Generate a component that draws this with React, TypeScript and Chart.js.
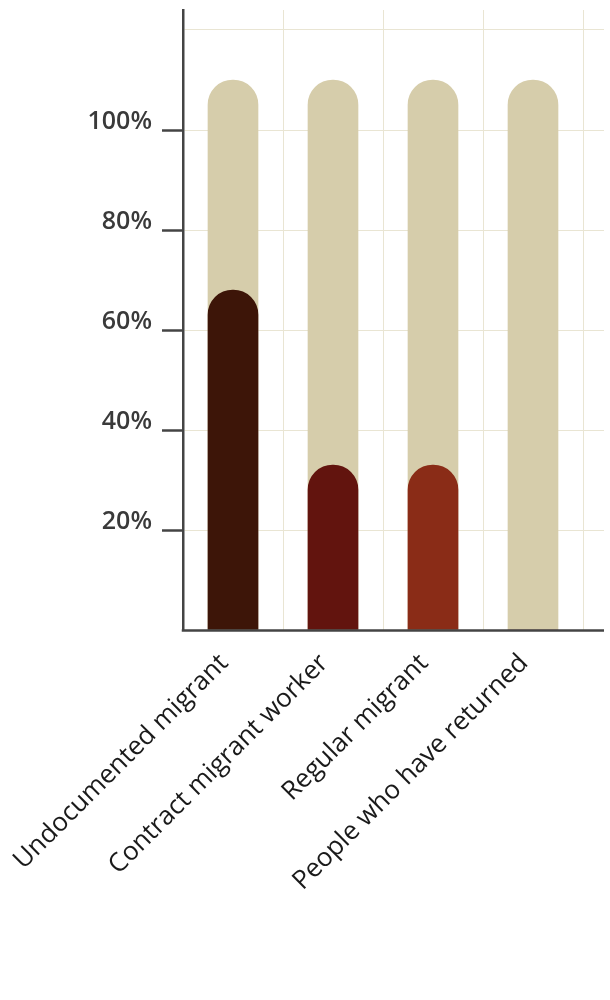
import React, { useEffect, useRef } from "react";
import { Chart, registerables } from "chart.js";

Chart.register(...registerables);

const categories = [
  "Undocumented migrant",
  "Contract migrant worker",
  "Regular migrant",
  "People who have returned",
];
const shareValues = [68, 33, 33, 0];
const backgroundValues = [110, 110, 110, 110];
const shareColors = ["#3D1508", "#62140E", "#8A2C17", "#8A2C17"];
const labelledTicks = [20, 40, 60, 80, 100];

const GRID = "#E9E5D3";
const AXIS = "#444444";
const TRACK = "#D6CDAB";

const extendPlugin = {
  id: "extendLines",
  afterDraw(chart: any) {
    const { ctx, chartArea, scales } = chart;
    const y = scales.y;
    ctx.save();
    ctx.strokeStyle = GRID;
    ctx.lineWidth = 1;
    y.ticks.forEach((t: any) => {
      if (t.value <= 0) return;
      const p = y.getPixelForValue(t.value);
      const py = Math.round(p - 0.5) + 0.5;
      ctx.beginPath();
      ctx.moveTo(chartArea.right, py);
      ctx.lineTo(chartArea.right + 21, py);
      ctx.stroke();
    });
    ctx.strokeStyle = AXIS;
    ctx.lineWidth = 2.5;
    const by = chartArea.bottom + 0.5;
    ctx.beginPath();
    ctx.moveTo(chartArea.left - 1.25, by);
    ctx.lineTo(chartArea.right + 21, by);
    ctx.stroke();
    ctx.restore();
  },
};

export default function App() {
  const ref = useRef<HTMLCanvasElement | null>(null);

  useEffect(() => {
    if (!ref.current) return;
    const chart = new Chart(ref.current, {
      type: "bar",
      data: {
        labels: categories,
        datasets: [
          {
            label: "Share",
            data: shareValues,
            backgroundColor: shareColors,
            barThickness: 50,
            grouped: false,
            borderRadius: 25,
            borderSkipped: "start",
          } as any,
          {
            label: "Total",
            data: backgroundValues,
            backgroundColor: TRACK,
            barThickness: 50,
            grouped: false,
            borderRadius: 25,
            borderSkipped: "start",
          } as any,
        ],
      },
      options: {
        responsive: false,
        animation: false,
        devicePixelRatio: 1,
        layout: { padding: { top: 10, right: 27, left: 0, bottom: 0 } },
        plugins: { legend: { display: false }, tooltip: { enabled: false } },
        scales: {
          x: {
            offset: true,
            grid: {
              offset: true,
              drawTicks: false,
              color: (c: any) => (c.index === 0 ? "rgba(0,0,0,0)" : GRID),
              lineWidth: 1,
            },
            border: { display: false },
            ticks: {
              autoSkip: false,
              minRotation: 45,
              maxRotation: 45,
              padding: 18,
              labelOffset: -9,
              color: "#1a1a1a",
              font: { family: "'Open Sans'", size: 26, weight: "normal" as any },
            },
            afterFit: (s: any) => {
              s.height = 370;
              s.paddingLeft = 0;
              s.paddingRight = 0;
            },
          },
          y: {
            min: 0,
            max: 124,
            grid: {
              color: (c: any) =>
                c.tick && c.tick.value > 0 ? GRID : "rgba(0,0,0,0)",
              tickColor: (c: any) =>
                c.tick && labelledTicks.includes(c.tick.value) ? AXIS : "rgba(0,0,0,0)",
              tickLength: 21,
              tickWidth: 2.5,
              lineWidth: 1,
            },
            border: { color: AXIS, width: 2.5 },
            ticks: {
              stepSize: 20,
              includeBounds: false,
              padding: 10,
              labelOffset: -8,
              color: "#3a3a3a",
              font: { family: "'Open Sans'", size: 25, weight: "600" as any },
              callback: (v: any) => (labelledTicks.includes(Number(v)) ? `${v}%` : ""),
            },
            afterFit: (s: any) => {
              s.width = 183;
              s.paddingTop = 0;
              s.paddingBottom = 0;
            },
          },
        },
      },
      plugins: [extendPlugin],
    });
    return () => chart.destroy();
  }, []);

  return (
    <div style={{ position: "absolute", left: 0, top: 0, width: 610, height: 1000 }}>
      <canvas ref={ref} width={610} height={1000} />
    </div>
  );
}
